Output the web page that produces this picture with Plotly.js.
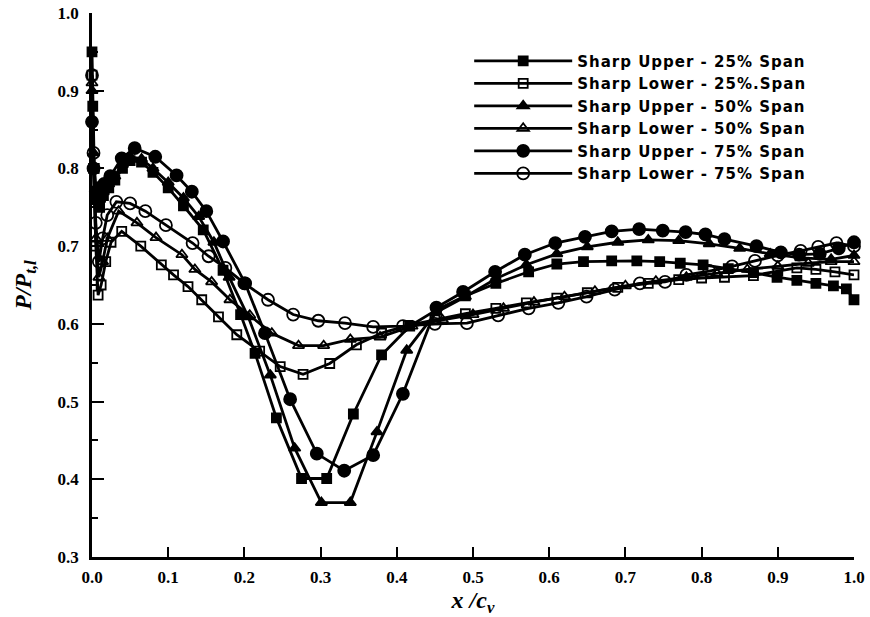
<!DOCTYPE html>
<html>
<head>
<meta charset="utf-8">
<script src="https://cdn.plot.ly/plotly-3.0.1.min.js"></script>
<style>
  html, body { margin: 0; padding: 0; background: #fff; }
  #chart { width: 870px; height: 617px; }
  /* slightly wider tracking for the legend labels (also seen by the text measurer) */
  .legendtext { letter-spacing: 1px; }
</style>
</head>
<body>
<div id="chart"></div>
<script>
// Static pressure ratio along the vane chord, sharp leading edge

// Sharp Upper - 25% Span
const xUpper25 = [0, 0.001, 0.003, 0.006, 0.01, 0.015, 0.022, 0.03, 0.04, 0.05, 0.065, 0.08, 0.1, 0.12, 0.146, 0.172, 0.195, 0.214, 0.242, 0.275, 0.308, 0.343, 0.38, 0.417, 0.452, 0.49, 0.53, 0.573, 0.61, 0.645, 0.682, 0.715, 0.745, 0.772, 0.802, 0.835, 0.868, 0.899, 0.925, 0.95, 0.973, 0.99, 1.0];
const yUpper25 = [0.95, 0.88, 0.80, 0.76, 0.75, 0.765, 0.775, 0.785, 0.80, 0.81, 0.808, 0.795, 0.775, 0.752, 0.721, 0.669, 0.612, 0.562, 0.479, 0.401, 0.401, 0.484, 0.560, 0.597, 0.618, 0.636, 0.652, 0.667, 0.677, 0.680, 0.681, 0.681, 0.680, 0.678, 0.676, 0.671, 0.666, 0.660, 0.656, 0.652, 0.649, 0.645, 0.631];

// Sharp Lower - 25% Span
const xLower25 = [0, 0.002, 0.005, 0.008, 0.012, 0.018, 0.025, 0.039, 0.064, 0.091, 0.107, 0.126, 0.144, 0.166, 0.190, 0.22, 0.247, 0.277, 0.312, 0.347, 0.38, 0.415, 0.45, 0.49, 0.53, 0.57, 0.61, 0.65, 0.69, 0.73, 0.77, 0.80, 0.83, 0.868, 0.90, 0.925, 0.95, 0.975, 1.0];
const yLower25 = [0.92, 0.80, 0.70, 0.637, 0.65, 0.68, 0.705, 0.719, 0.700, 0.676, 0.663, 0.648, 0.631, 0.609, 0.586, 0.565, 0.545, 0.535, 0.549, 0.573, 0.588, 0.598, 0.605, 0.613, 0.620, 0.627, 0.633, 0.640, 0.647, 0.652, 0.657, 0.659, 0.660, 0.662, 0.668, 0.672, 0.670, 0.667, 0.663];

// Sharp Upper - 50% Span
const xUpper50 = [0, 0.002, 0.005, 0.01, 0.015, 0.022, 0.03, 0.04, 0.05, 0.065, 0.08, 0.1, 0.12, 0.14, 0.16, 0.18, 0.205, 0.234, 0.266, 0.301, 0.339, 0.374, 0.413, 0.452, 0.49, 0.53, 0.57, 0.61, 0.65, 0.69, 0.73, 0.77, 0.81, 0.85, 0.89, 0.93, 0.97, 1.0];
const yUpper50 = [0.90, 0.82, 0.77, 0.76, 0.77, 0.78, 0.79, 0.805, 0.815, 0.812, 0.80, 0.782, 0.762, 0.738, 0.705, 0.66, 0.609, 0.534, 0.440, 0.370, 0.370, 0.461, 0.566, 0.615, 0.635, 0.658, 0.676, 0.690, 0.699, 0.705, 0.708, 0.707, 0.703, 0.697, 0.690, 0.685, 0.683, 0.688];

// Sharp Lower - 50% Span
const xLower50 = [0, 0.002, 0.005, 0.009, 0.014, 0.02, 0.035, 0.059, 0.084, 0.118, 0.135, 0.157, 0.181, 0.207, 0.236, 0.271, 0.304, 0.339, 0.378, 0.42, 0.46, 0.5, 0.54, 0.58, 0.62, 0.66, 0.70, 0.74, 0.78, 0.82, 0.86, 0.90, 0.94, 0.97, 1.0];
const yLower50 = [0.91, 0.80, 0.71, 0.66, 0.68, 0.71, 0.745, 0.730, 0.711, 0.689, 0.670, 0.654, 0.631, 0.611, 0.588, 0.572, 0.572, 0.580, 0.583, 0.597, 0.605, 0.612, 0.620, 0.628, 0.635, 0.642, 0.649, 0.655, 0.660, 0.665, 0.670, 0.674, 0.678, 0.680, 0.680];

// Sharp Upper - 75% Span
const xUpper75 = [0, 0.002, 0.005, 0.01, 0.016, 0.024, 0.039, 0.056, 0.083, 0.111, 0.131, 0.15, 0.172, 0.201, 0.227, 0.260, 0.295, 0.331, 0.369, 0.408, 0.452, 0.487, 0.529, 0.568, 0.608, 0.647, 0.682, 0.718, 0.749, 0.779, 0.805, 0.830, 0.872, 0.904, 0.928, 0.955, 0.98, 1.0];
const yUpper75 = [0.86, 0.80, 0.77, 0.775, 0.78, 0.79, 0.813, 0.826, 0.815, 0.791, 0.770, 0.745, 0.706, 0.652, 0.588, 0.503, 0.433, 0.411, 0.431, 0.510, 0.621, 0.641, 0.667, 0.689, 0.704, 0.712, 0.719, 0.722, 0.720, 0.718, 0.715, 0.709, 0.700, 0.692, 0.689, 0.690, 0.697, 0.705];

// Sharp Lower - 75% Span
const xLower75 = [0, 0.002, 0.005, 0.009, 0.014, 0.02, 0.032, 0.05, 0.07, 0.097, 0.132, 0.153, 0.175, 0.20, 0.231, 0.264, 0.297, 0.332, 0.369, 0.408, 0.45, 0.492, 0.533, 0.573, 0.612, 0.649, 0.686, 0.719, 0.752, 0.780, 0.81, 0.84, 0.87, 0.90, 0.93, 0.953, 0.977, 1.0];
const yLower75 = [0.92, 0.82, 0.73, 0.68, 0.71, 0.74, 0.757, 0.755, 0.745, 0.727, 0.704, 0.687, 0.672, 0.652, 0.631, 0.612, 0.604, 0.601, 0.596, 0.597, 0.600, 0.601, 0.611, 0.620, 0.627, 0.635, 0.644, 0.652, 0.654, 0.663, 0.668, 0.674, 0.681, 0.688, 0.694, 0.699, 0.704, 0.700];

const seriesNames = [
  'Sharp Upper - 25% Span',
  'Sharp Lower - 25%.Span',
  'Sharp Upper - 50% Span',
  'Sharp Lower - 50% Span',
  'Sharp Upper - 75% Span',
  'Sharp Lower - 75% Span'
];

const xTickVals = [0, 0.1, 0.2, 0.3, 0.4, 0.5, 0.6, 0.7, 0.8, 0.9, 1.0];
const yTickVals = [0.3, 0.4, 0.5, 0.6, 0.7, 0.8, 0.9, 1.0];

const ink = '#000';

function curve(name, xs, ys, symbol, size) {
  return {
    type: 'scatter',
    mode: 'lines+markers',
    name: name,
    x: xs,
    y: ys,
    cliponaxis: false,
    line: { color: ink, width: 2.8 },
    marker: {
      symbol: symbol,
      size: size,
      color: ink,
      line: { color: ink, width: 1.8 }
    }
  };
}

const traces = [
  curve(seriesNames[0], xUpper25, yUpper25, 'square', 9),
  curve(seriesNames[1], xLower25, yLower25, 'square-open', 9),
  curve(seriesNames[2], xUpper50, yUpper50, 'triangle-up', 10),
  curve(seriesNames[3], xLower50, yLower50, 'triangle-up-open', 10),
  curve(seriesNames[4], xUpper75, yUpper75, 'circle', 12),
  curve(seriesNames[5], xLower75, yLower75, 'circle-open', 12)
];

const tickFont = { family: 'Liberation Serif, Times New Roman, serif', size: 17, color: ink, weight: 'bold' };
const titleFont = { family: 'Liberation Serif, Times New Roman, serif', size: 24, color: ink, weight: 'bold', style: 'italic' };

const layout = {
  width: 870,
  height: 617,
  paper_bgcolor: '#fff',
  plot_bgcolor: '#fff',
  margin: { l: 92, r: 16, t: 13, b: 60 },
  showlegend: true,
  legend: {
    x: 0.495,
    y: 0.942,
    xanchor: 'left',
    yanchor: 'top',
    bgcolor: 'rgba(0,0,0,0)',
    borderwidth: 0,
    itemwidth: 98,
    tracegroupgap: 0,
    font: { family: 'DejaVu Sans, Arial, sans-serif', size: 15, color: ink, weight: 'bold' }
  },
  xaxis: {
    range: [0, 1.0],
    tickvals: xTickVals,
    ticktext: xTickVals.map(v => v.toFixed(1)),
    ticks: 'inside',
    ticklen: 10,
    tickwidth: 2,
    tickcolor: ink,
    ticklabelstandoff: 3,
    showline: true,
    linewidth: 2.8,
    linecolor: ink,
    showgrid: false,
    zeroline: false,
    tickfont: tickFont,
    title: { text: 'x /c<sub>v</sub>', font: titleFont, standoff: 0 }
  },
  yaxis: {
    range: [0.3, 1.0],
    tickvals: yTickVals,
    ticktext: yTickVals.map(v => v.toFixed(1)),
    ticks: 'inside',
    ticklen: 12,
    tickwidth: 2,
    tickcolor: ink,
    ticklabelstandoff: 7,
    minor: { dtick: 0.05, tick0: 0.3, ticks: 'inside', ticklen: 6, tickwidth: 2, tickcolor: ink, showgrid: false },
    showline: true,
    linewidth: 2.8,
    linecolor: ink,
    showgrid: false,
    zeroline: false,
    tickfont: tickFont,
    title: { text: 'P/P<sub>t,l</sub>', font: titleFont, standoff: 20 }
  }
};

Plotly.newPlot('chart', traces, layout, { displayModeBar: false, staticPlot: true });
</script>
</body>
</html>
